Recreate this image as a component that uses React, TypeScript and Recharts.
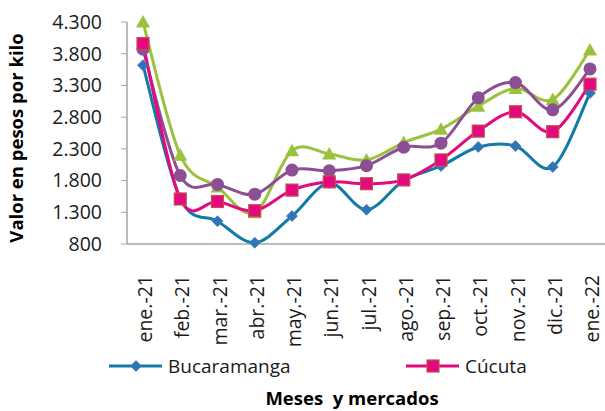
import React from 'react';
import { LineChart, Line, XAxis, YAxis, Legend, Label } from 'recharts';

const months = ['ene.-21', 'feb.-21', 'mar.-21', 'abr.-21', 'may.-21', 'jun.-21', 'jul.-21', 'ago.-21', 'sep.-21', 'oct.-21', 'nov.-21', 'dic.-21', 'ene.-22'];
const bucaramanga = [3620, 1520, 1160, 820, 1240, 1760, 1340, 1800, 2030, 2330, 2345, 2015, 3180];
const cucuta = [3960, 1510, 1470, 1325, 1650, 1780, 1750, 1810, 2125, 2580, 2885, 2570, 3320];
const mercado3 = [4300, 2200, 1700, 1295, 2270, 2220, 2125, 2400, 2610, 2975, 3255, 3080, 3860];
const mercado4 = [3870, 1880, 1740, 1585, 1965, 1955, 2035, 2325, 2390, 3105, 3345, 2915, 3560];
const yTicks = [800, 1300, 1800, 2300, 2800, 3300, 3800, 4300];

const data = months.map((m, i) => ({
  mes: m,
  bucaramanga: bucaramanga[i],
  cucuta: cucuta[i],
  mercado3: mercado3[i],
  mercado4: mercado4[i],
}));

const FONT = '"Open Sans", sans-serif';

// Excel style smoothing: catmull-rom through the points
const smoothCurve: any = (context: any) => {
  let pts: number[][] = [];
  return {
    areaStart() {},
    areaEnd() {},
    lineStart() { pts = []; },
    point(x: number, y: number) { pts.push([+x, +y]); },
    lineEnd() {
      if (!pts.length) return;
      context.moveTo(pts[0][0], pts[0][1]);
      for (let i = 0; i < pts.length - 1; i++) {
        const p0 = pts[i - 1] || pts[i];
        const p1 = pts[i];
        const p2 = pts[i + 1];
        const p3 = pts[i + 2] || pts[i + 1];
        const k = 1 / 6;
        context.bezierCurveTo(
          p1[0] + (p2[0] - p0[0]) * k, p1[1] + (p2[1] - p0[1]) * k,
          p2[0] - (p3[0] - p1[0]) * k, p2[1] - (p3[1] - p1[1]) * k,
          p2[0], p2[1]
        );
      }
    },
  };
};

const fmt = (v: number) => String(v).replace(/\B(?=(\d{3})+(?!\d))/g, '.');

const diamond = (cx: number, cy: number, r: number, fill: string, key?: any) => (
  <path key={key} d={`M${cx},${cy - r}L${cx + r},${cy}L${cx},${cy + r}L${cx - r},${cy}Z`} fill={fill} stroke="#4a7ebb" strokeWidth={0.8} />
);
const square = (cx: number, cy: number, s: number, key?: any) => (
  <rect key={key} x={cx - s} y={cy - s} width={s * 2} height={s * 2} fill="#e4097f" stroke="#c0504d" strokeWidth={1.2} />
);
const triangle = (cx: number, cy: number, s: number, key?: any) => (
  <path key={key} d={`M${cx},${cy - s}L${cx + s},${cy + s * 0.8}L${cx - s},${cy + s * 0.8}Z`} fill="#9bc23c" />
);

const XTick = (props: any) => {
  const { x, payload } = props;
  const y = 275;
  return (
    <text x={x} y={y} dy={9} transform={`rotate(-90, ${x}, ${y})`} textAnchor="end" fontFamily={FONT} fontSize={19.5} fill="#1a1a1a">
      {payload.value}
    </text>
  );
};

const legendSeries = [
  { key: 'bucaramanga', lineX: 109, textX: 168 },
  { key: 'cucuta', lineX: 406, textX: 465 },
];

const LegendContent = (props: any) => {
  const payload = props.payload || [];
  return (
    <svg width={605} height={30}>
      {legendSeries.map((s) => {
        const item = payload.find((p: any) => p.dataKey === s.key);
        if (!item) return null;
        const cy = 14;
        const mid = s.lineX + 27;
        return (
          <g key={s.key}>
            <line x1={s.lineX} x2={s.lineX + 53} y1={cy} y2={cy} stroke={item.color} strokeWidth={3} />
            {s.key === 'bucaramanga' ? diamond(mid, cy, 5.5, '#2e75b6') : square(mid, cy, 6)}
            <text x={s.textX} y={cy + 7} fontFamily={FONT} fontSize={19} fill="#1a1a1a">{item.value}</text>
          </g>
        );
      })}
    </svg>
  );
};

export default function App() {
  return (
    <div style={{ position: 'absolute', left: 0, top: 0, width: 605, height: 411, background: '#fff' }}>
      <LineChart width={605} height={411} data={data} margin={{ top: 22, right: 0, left: 0, bottom: 0 }}>
        <XAxis
          dataKey="mes"
          height={167}
          tick={<XTick />}
          tickLine={false}
          axisLine={{ stroke: '#a6a6a6', strokeWidth: 1.5 }}
          interval={0}
          padding={{ left: 16, right: 15 }}
        >
          <Label
            content={() => (
              <text x={352} y={405} textAnchor="middle" fontFamily={FONT} fontWeight="bold" fontSize={18.5} fill="#000" style={{ whiteSpace: 'pre' }}>
                Meses  y mercados
              </text>
            )}
          />
        </XAxis>
        <YAxis
          width={127}
          domain={[800, 4300]}
          ticks={yTicks}
          tickFormatter={fmt}
          tickSize={6}
          tickMargin={19}
          tickLine={{ stroke: '#a6a6a6' }}
          axisLine={{ stroke: '#a6a6a6', strokeWidth: 1.5 }}
          tick={{ fontFamily: FONT, fontSize: 19.5, fill: '#1a1a1a' }}
        >
          <Label
            content={() => (
              <text x={23} y={138} transform="rotate(-90, 23, 138)" textAnchor="middle" fontFamily={FONT} fontWeight="bold" fontSize={18.5} fill="#000">
                Valor en pesos por kilo
              </text>
            )}
          />
        </YAxis>
        <Legend
          layout="vertical"
          align="center"
          verticalAlign="middle"
          wrapperStyle={{ position: 'absolute', left: 0, top: 352, width: 605, height: 30 }}
          content={<LegendContent />}
        />
        <Line
          dataKey="bucaramanga"
          name="Bucaramanga"
          type={smoothCurve}
          stroke="#117aa6"
          strokeWidth={3}
          isAnimationActive={false}
          dot={(p: any) => diamond(p.cx, p.cy, 5.5, '#2e75b6', p.key ?? p.index)}
          activeDot={false}
        />
        <Line
          dataKey="mercado3"
          name="Mercado 3"
          type={smoothCurve}
          stroke="#9bc23c"
          strokeWidth={3}
          isAnimationActive={false}
          dot={(p: any) => triangle(p.cx, p.cy, 7, p.key ?? p.index)}
          activeDot={false}
        />
        <Line
          dataKey="mercado4"
          name="Mercado 4"
          type={smoothCurve}
          stroke="#8c4f93"
          strokeWidth={3}
          isAnimationActive={false}
          dot={(p: any) => <circle key={p.key ?? p.index} cx={p.cx} cy={p.cy} r={6.5} fill="#8c4f93" />}
          activeDot={false}
        />
        <Line
          dataKey="cucuta"
          name="Cúcuta"
          type={smoothCurve}
          stroke="#e4097f"
          strokeWidth={3}
          isAnimationActive={false}
          dot={(p: any) => square(p.cx, p.cy, 6, p.key ?? p.index)}
          activeDot={false}
        />
      </LineChart>
    </div>
  );
}
